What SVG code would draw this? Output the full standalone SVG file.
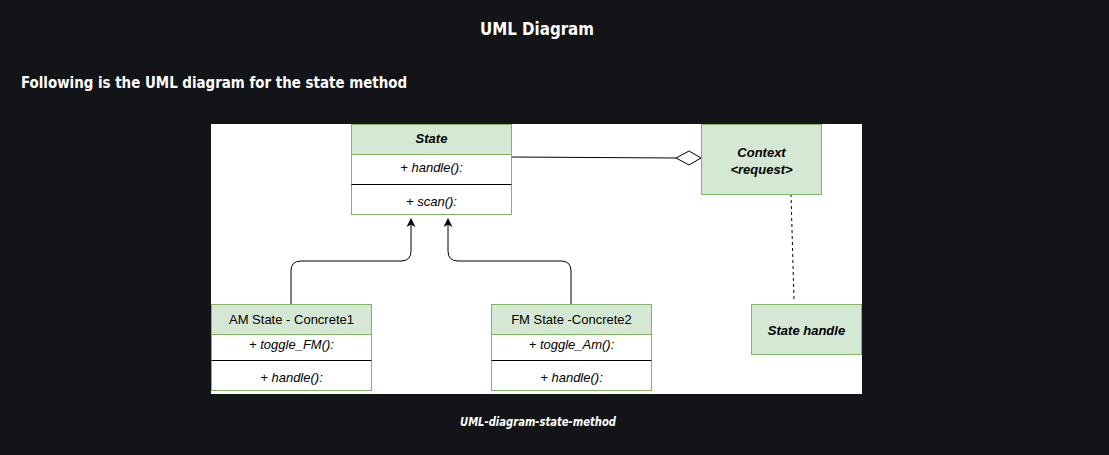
<svg xmlns="http://www.w3.org/2000/svg" width="1109" height="455" viewBox="0 0 1109 455">
<defs>
<style>
.hdr{fill:#d5e8d4;stroke:#82b366;stroke-width:1}
.bod{fill:#ffffff;stroke:#82b366;stroke-width:1}
.sep{stroke:#000;stroke-width:1}
.t{font-family:"Liberation Sans",Arial,sans-serif;font-size:13px;fill:#000;text-anchor:middle}
.ti{font-style:italic}
.tb{font-weight:bold}
.page{font-family:"DejaVu Sans Condensed","DejaVu Sans",sans-serif;fill:#ffffff;font-weight:bold}
.edge{fill:none;stroke:#000;stroke-width:1}
</style>
<marker id="arr" viewBox="0 0 10 10" refX="9" refY="5" markerWidth="9" markerHeight="9" orient="auto" markerUnits="userSpaceOnUse">
<path d="M0,0 L10,5 L0,10 L3,5 Z" fill="#000"/>
</marker>
</defs>
<rect width="1109" height="455" fill="#131418"/>
<text class="page" x="480" y="35" font-size="18" textLength="114" lengthAdjust="spacingAndGlyphs">UML Diagram</text>
<text class="page" x="21" y="88" font-size="16" textLength="386" lengthAdjust="spacingAndGlyphs">Following is the UML diagram for the state method</text>
<rect x="211" y="124" width="651" height="270" fill="#ffffff"/>

<g id="connectors">
<path class="edge" d="M291,304 V271 Q291,261 301,261 H401 Q411,261 411,251 V219" marker-end="url(#arr)"/>
<path class="edge" d="M571,304 V271 Q571,261 561,261 H458 Q448,261 448,251 V219" marker-end="url(#arr)"/>
<path class="edge" d="M511,157 L676,158"/>
<path d="M676,158 L689,151 L701,158 L689,165 Z" fill="#fff" stroke="#000" stroke-width="1"/>
<path class="edge" d="M791,194 L794,300" stroke-dasharray="3,3"/>
</g>

<g id="state">
<rect class="hdr" x="351.5" y="124.5" width="160" height="30"/>
<rect class="bod" x="351.5" y="154.5" width="160" height="60"/>
<line class="sep" x1="351.5" y1="184.5" x2="511.5" y2="184.5"/>
<text class="t ti tb" x="431.5" y="143">State</text>
<text class="t ti" x="431.5" y="172">+ handle():</text>
<text class="t ti" x="431.5" y="206">+ scan():</text>
</g>

<g id="context">
<rect class="hdr" x="701.5" y="124.5" width="120" height="70"/>
<text class="t ti tb" x="761.5" y="157" font-size="15">Context</text>
<text class="t ti tb" x="761.5" y="174" font-size="15">&lt;request&gt;</text>
</g>

<g id="statehandle">
<rect class="hdr" x="751.5" y="304.5" width="110" height="50"/>
<text class="t ti tb" x="806.5" y="335" font-size="16">State handle</text>
</g>

<g id="am">
<rect class="hdr" x="211.5" y="304.5" width="160" height="30"/>
<rect class="bod" x="211.5" y="334.5" width="160" height="56"/>
<line class="sep" x1="211.5" y1="360.5" x2="371.5" y2="360.5"/>
<text class="t" x="291.5" y="324" font-size="14.5">AM State - Concrete1</text>
<text class="t ti" x="291.5" y="349">+ toggle_FM():</text>
<text class="t ti" x="291.5" y="382">+ handle():</text>
</g>

<g id="fm">
<rect class="hdr" x="491.5" y="304.5" width="160" height="30"/>
<rect class="bod" x="491.5" y="334.5" width="160" height="56"/>
<line class="sep" x1="491.5" y1="360.5" x2="651.5" y2="360.5"/>
<text class="t" x="571.5" y="324" font-size="14.5">FM State -Concrete2</text>
<text class="t ti" x="571.5" y="349">+ toggle_Am():</text>
<text class="t ti" x="571.5" y="382">+ handle():</text>
</g>

<text class="page" x="460" y="426" font-size="12" font-style="italic" textLength="156" lengthAdjust="spacingAndGlyphs">UML-diagram-state-method</text>
</svg>
